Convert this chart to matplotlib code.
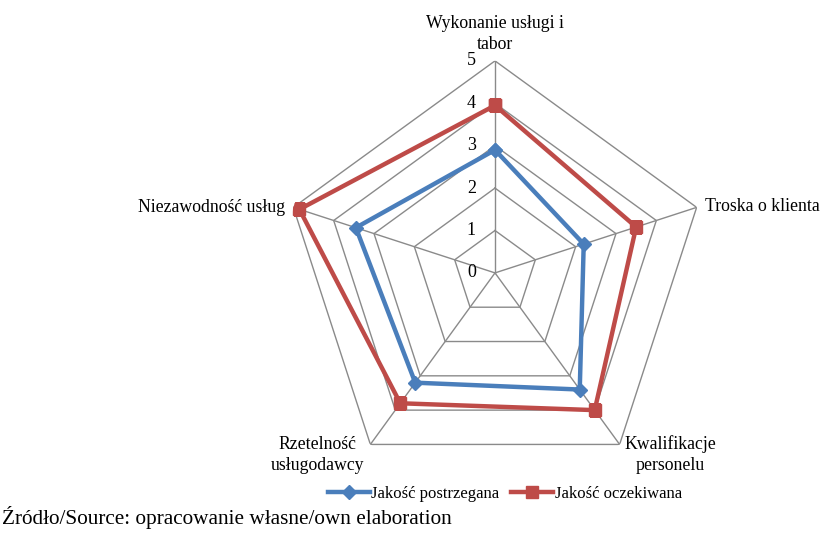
import numpy as np
import matplotlib
matplotlib.use("Agg")
import matplotlib.pyplot as plt

categories = ["Wykonanie usługi i\ntabor", "Troska o klienta", "Kwalifikacje\npersonelu",
              "Rzetelność\nusługodawcy", "Niezawodność usług"]
perceived = [2.9, 2.2, 3.4, 3.2, 3.45]
expected = [3.95, 3.5, 4.0, 3.8, 4.85]
series_names = ["Jakość postrzegana", "Jakość oczekiwana"]
ticks = [0, 1, 2, 3, 4, 5]
source = "Źródło/Source: opracowanie własne/own elaboration"

plt.rcParams['font.family'] = ['Liberation Serif', 'DejaVu Serif']

fig = plt.figure(figsize=(8.25, 5.37), dpi=100)
ax = fig.add_axes([0.343, 0.0968, 0.514, 0.79], projection='polar')
ax.set_theta_offset(np.pi / 2)
ax.set_theta_direction(-1)
ax.set_ylim(0, 5)
ax.grid(False)
ax.spines['polar'].set_visible(False)
ax.set_xticks([])
ax.set_yticks([])
ax.patch.set_alpha(0)

n = len(categories)
angles = np.arange(n) * 2 * np.pi / n
closed = np.append(angles, angles[0])

gc = '#8a8a8a'
for r in ticks[1:]:
    ax.plot(closed, [r] * (n + 1), color=gc, lw=1.0, zorder=1)
for a in angles:
    ax.plot([a, a], [0, 5], color=gc, lw=1.0, zorder=1)

l1, = ax.plot(closed, perceived + perceived[:1], color='#4a7ebb', lw=3.2, marker='D',
              markersize=7, zorder=3, label=series_names[0])
l2, = ax.plot(closed, expected + expected[:1], color='#be4b48', lw=3.2, marker='s',
              markersize=9, zorder=2, label=series_names[1])

for t in ticks:
    ax.annotate(str(t), xy=(0, t), xytext=(-19, 0), textcoords='offset pixels',
                ha='right', va='center', fontsize=13)

fs = 12.8
ax.text(0, 5.63, categories[0], ha='center', va='center', fontsize=fs, linespacing=1.35)
ax.text(np.deg2rad(72.5), 5.2, categories[1], ha='left', va='center', fontsize=fs)
ax.text(np.deg2rad(136.1), 5.95, categories[2], ha='center', va='center', fontsize=fs, linespacing=1.35)
ax.text(np.deg2rad(224.2), 5.99, categories[3], ha='center', va='center', fontsize=fs, linespacing=1.35)
ax.text(np.deg2rad(287.2), 5.18, categories[4], ha='right', va='center', fontsize=fs)

fig.legend(handles=[l1, l2], loc='center', bbox_to_anchor=(0.612, 0.08), ncol=2,
           frameon=False, fontsize=12, handlelength=2.5, handletextpad=0.1,
           columnspacing=0.7)

fig.text(0.002, 0.037, source, ha='left', va='center', fontsize=15.3)

fig.savefig('out.png', dpi=100)
